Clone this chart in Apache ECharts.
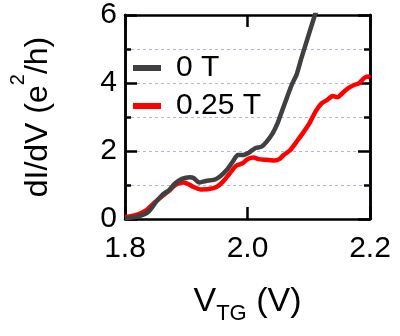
<!DOCTYPE html>
<html>
<head>
<meta charset="utf-8">
<script src="https://cdn.jsdelivr.net/npm/echarts@6/dist/echarts.min.js"></script>
<style>html,body{margin:0;padding:0;background:#fff;}#c{width:400px;height:336px;}</style>
</head>
<body>
<div id="c"></div>
<script>
const seriesNames = ['0 T', '0.25 T'];
const vZero = [1.800,1.820,1.838,1.851,1.861,1.872,1.882,1.893,1.906,1.9125,1.921,1.932,1.945,1.955,1.966,1.976,1.984,1.992,2.002,2.0125,2.023,2.031,2.041,2.049,2.057,2.065,2.072,2.080,2.088,2.098,2.110,2.116];
const gZero = [0.02,0.07,0.21,0.51,0.71,0.85,1.05,1.18,1.23,1.20,1.07,1.12,1.15,1.25,1.44,1.69,1.88,1.88,1.95,2.08,2.13,2.27,2.52,2.81,3.21,3.60,3.94,4.24,4.73,5.31,6.00,6.30];
const vQuarter = [1.800,1.820,1.835,1.848,1.861,1.872,1.882,1.895,1.901,1.911,1.924,1.937,1.950,1.960,1.971,1.981,1.992,2.000,2.010,2.018,2.031,2.044,2.052,2.059,2.070,2.080,2.091,2.101,2.111,2.121,2.130,2.139,2.147,2.156,2.164,2.174,2.182,2.190,2.197,2.200];
const gQuarter = [0.05,0.13,0.26,0.48,0.68,0.83,1.00,1.07,1.05,0.95,0.87,0.88,0.95,1.10,1.34,1.56,1.64,1.76,1.81,1.76,1.74,1.72,1.76,1.88,2.03,2.27,2.54,2.81,3.16,3.40,3.50,3.62,3.58,3.72,3.84,3.94,3.99,4.14,4.19,4.15];
const xTicks = [1.8, 2.0, 2.2];
const yTicks = [0, 2, 4, 6];

const zip = (a, b) => a.map((v, i) => [v, b[i]]);
const font = 'Liberation Sans, Arial, sans-serif';
const gridColor = '#b4b4e4';

function line() { return {show: true, onZero: false, lineStyle: {color: '#000', width: 2.5}}; }
function tick(len) { return {show: true, inside: true, length: len, lineStyle: {color: '#000', width: 2.5}}; }

const chart = echarts.init(document.getElementById('c'));
chart.setOption({
  animation: false,
  grid: {left: 114, right: 30, top: 15, bottom: 117},
  legend: {
    left: 128, top: 48, orient: 'vertical', itemGap: 8,
    itemWidth: 28, itemHeight: 6, icon: 'rect',
    textStyle: {fontFamily: font, fontSize: 30, color: '#000', lineHeight: 30, padding: [0, 0, 0, 10]},
    data: seriesNames
  },
  xAxis: [
    {
      type: 'value', min: 1.8, max: 2.2, interval: 0.2, position: 'bottom',
      axisLine: line(), axisTick: tick(12),
      axisLabel: {fontFamily: font, fontSize: 30, color: '#000', margin: 15,
        formatter: v => xTicks.some(t => Math.abs(t - v) < 1e-6) ? v.toFixed(1) : ''},
      splitLine: {show: false},
      name: 'V{sub|TG} (V)', nameLocation: 'middle', nameGap: 66,
      nameTextStyle: {fontFamily: font, fontSize: 34, color: '#000',
        rich: {sub: {fontFamily: font, fontSize: 22, color: '#000', verticalAlign: 'bottom', padding: [0, 0, -6, 0]}}}
    },
    {
      type: 'value', min: 1.8, max: 2.2, interval: 0.2, position: 'top',
      axisLine: line(), axisTick: tick(12),
      axisLabel: {show: false}, splitLine: {show: false}
    }
  ],
  yAxis: [
    {
      type: 'value', min: 0, max: 6, interval: 2, position: 'left',
      axisLine: line(), axisTick: tick(12),
      axisLabel: {fontFamily: font, fontSize: 30, color: '#000', margin: 8,
        formatter: v => yTicks.includes(v) ? String(v) : ''},
      splitLine: {show: false},
      name: 'dI/dV (e{sup|2}/h)', nameLocation: 'middle', nameGap: 71,
      nameTextStyle: {fontFamily: font, fontSize: 32, color: '#000',
        rich: {sup: {fontFamily: font, fontSize: 20, color: '#000', verticalAlign: 'top', padding: [-14, 0, 0, 0]}}}
    },
    {
      type: 'value', min: 0, max: 6, interval: 2, position: 'right',
      axisLine: line(), axisTick: tick(12), axisLabel: {show: false}, splitLine: {show: false}
    },
    {
      type: 'value', min: 0, max: 6, interval: 1, position: 'left',
      axisLine: line(), axisTick: tick(6), axisLabel: {show: false},
      splitLine: {show: true, lineStyle: {color: gridColor, type: [3, 3], width: 1}}
    },
    {
      type: 'value', min: 0, max: 6, interval: 1, position: 'right',
      axisLine: line(), axisTick: tick(6), axisLabel: {show: false}, splitLine: {show: false}
    }
  ],
  series: [
    {name: seriesNames[0], type: 'line', data: zip(vZero, gZero), xAxisIndex: 0, yAxisIndex: 0,
      showSymbol: false, symbol: 'none', smooth: 0.2, clip: true, color: '#404040',
      lineStyle: {color: '#404040', width: 4.5}, z: 3},
    {name: seriesNames[1], type: 'line', data: zip(vQuarter, gQuarter), xAxisIndex: 0, yAxisIndex: 0,
      showSymbol: false, symbol: 'none', smooth: 0.2, clip: true, color: '#ff0000',
      lineStyle: {color: '#ff0000', width: 4.5}, z: 2}
  ]
});
</script>
</body>
</html>
